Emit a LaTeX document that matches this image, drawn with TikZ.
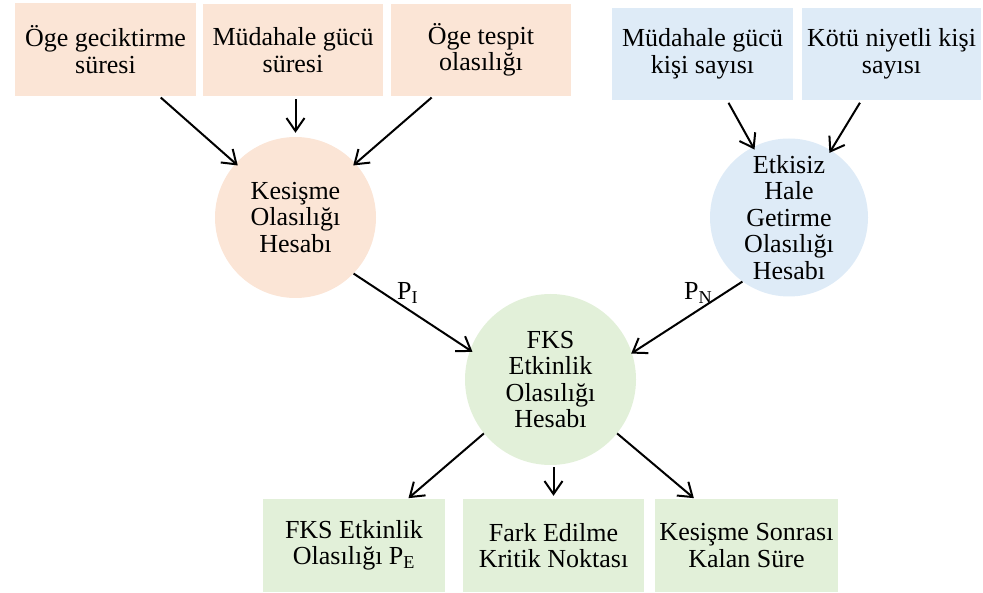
\documentclass[tikz,border=0pt]{standalone}
\usepackage{fontspec}
\setmainfont{Liberation Serif}
\usetikzlibrary{arrows.meta}
\definecolor{pinkfill}{HTML}{FBE5D6}
\definecolor{bluefill}{HTML}{DEEBF7}
\definecolor{greenfill}{HTML}{E2F0D9}
\begin{document}
\begin{tikzpicture}[x=1pt,y=-1pt,
  lbl/.style={font=\fontsize{26}{26.5}\selectfont, align=center, text=black},
  box/.style={lbl, inner sep=0pt},
  circ/.style={lbl, circle, inner sep=0pt},
  arr/.style={-{Straight Barb[length=13pt,width=18pt,line width=2pt]}, line width=2pt},
  sub/.style={font=\fontsize{26}{26.5}\selectfont, inner sep=0pt, anchor=base west}
]
\useasboundingbox (0,0) rectangle (983,593);

% input boxes, intersection branch
\node[box, fill=pinkfill, minimum width=181pt, minimum height=93pt] (a1) at (105.5,49.5) {Öge geciktirme\\süresi};
\node[box, fill=pinkfill, minimum width=180pt, minimum height=92pt] (a2) at (293,50) {Müdahale gücü\\süresi};
\node[box, fill=pinkfill, minimum width=180pt, minimum height=92pt] (a3) at (481,50) {Öge tespit\\olasılığı};

% input boxes, neutralisation branch
\node[box, fill=bluefill, minimum width=181pt, minimum height=92pt] (b1) at (702.5,54) {Müdahale gücü\\kişi sayısı};
\node[box, fill=bluefill, minimum width=179pt, minimum height=92pt] (b2) at (891.5,54) {Kötü niyetli kişi\\sayısı};

% calculation circles
\node[circ, fill=pinkfill, minimum size=161pt] (c1) at (295.5,217.5) {Kesişme\\Olasılığı\\Hesabı};
\node[circ, fill=bluefill, minimum size=158pt] (c2) at (789,217.5) {Etkisiz\\Hale\\Getirme\\Olasılığı\\Hesabı};
\node[circ, fill=greenfill, minimum size=171pt] (c3) at (550.5,379.5) {FKS\\Etkinlik\\Olasılığı\\Hesabı};

% output boxes
\node[box, fill=greenfill, minimum width=182pt, minimum height=93pt] (d1) at (354,545.5) {FKS Etkinlik\\Olasılığı P\textsubscript{E}};
\node[box, fill=greenfill, minimum width=181pt, minimum height=93pt] (d2) at (553.5,545.5) {Fark Edilme\\Kritik Noktası};
\node[box, fill=greenfill, minimum width=183pt, minimum height=93pt] (d3) at (746.5,545.5) {Kesişme Sonrası\\Kalan Süre};

% connectors into the intersection circle
\draw[arr, shorten <=2pt, shorten >=-3pt] (a1.-41) -- (c1.138);
\draw[arr, shorten <=3pt, shorten >=4pt] (c1.north |- a2.south) -- (c1.north);
\draw[arr, shorten <=2pt, shorten >=-3pt] (a3.-136) -- (c1.42);

% connectors into the neutralisation circle
\draw[arr, shorten <=3pt, shorten >=-3pt] (b1.-62) -- (c2.117);
\draw[arr, shorten <=3pt, shorten >=-3pt] (b2.-123) -- (c2.58);

% connectors into the effectiveness circle
\draw[arr, shorten >=-3pt] (c1.-44) -- (c3.160);
\draw[arr, shorten >=-1pt] (c2.-126) -- (c3.18);

% connectors to the outputs
\draw[arr, shorten >=1pt] (c3.-141) -- (d1.41);
\draw[arr, shorten <=2pt, shorten >=3pt] (c3.south -| d2.north) -- (d2.north);
\draw[arr, shorten >=1pt] (c3.-39) -- (d3.138);

% probability labels
\node[sub] (pi) at (397,300) {P\textsubscript{I}};
\node[sub] (pn) at (684,300) {P\textsubscript{N}};
\end{tikzpicture}
\end{document}
